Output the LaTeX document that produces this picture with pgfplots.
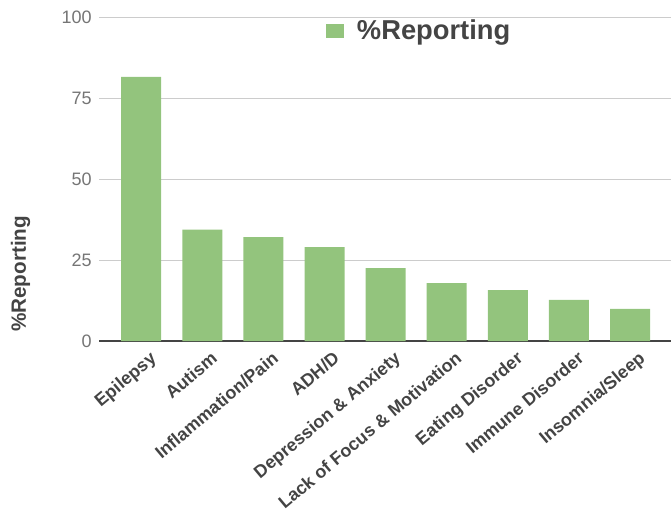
\documentclass[border=0pt]{standalone}
\usepackage{fontspec}
\setmainfont{Liberation Sans}
\usepackage{pgfplots}
\pgfplotsset{compat=1.18}
\definecolor{barg}{HTML}{93C47D}
\definecolor{tickg}{HTML}{757575}
\definecolor{labg}{HTML}{444444}
\begin{document}
\begin{tikzpicture}
\begin{axis}[
  name=ax, scale only axis, width=429pt, height=243pt,
  ymin=0, ymax=100, ytick={0,25,50,75,100},
  xmin=-0.69, xmax=8.67,
  xtick={0,...,8},
  xticklabels={Epilepsy,Autism,Inflammation/Pain,ADH/D,Depression \& Anxiety,Lack of Focus \& Motivation,Eating Disorder,Immune Disorder,Insomnia/Sleep},
  axis x line*=bottom, axis y line*=left,
  x axis line style={draw=labg, line width=1.1pt, -},
  y axis line style={draw=none},
  major tick length=0pt,
  ymajorgrids, grid style={draw=black!20, line width=0.7pt},
  /pgf/number format/assume math mode=true,
  yticklabel style={color=tickg, font=\fontsize{13.5}{14}\selectfont, xshift=-2pt},
  xticklabel style={color=labg, font=\bfseries\fontsize{13.4}{14}\selectfont, rotate=40, anchor=north east, inner sep=1pt, xshift=1pt, yshift=-8pt},
  ylabel={\%Reporting},
  ylabel style={at={(rel axis cs:-0.112,0.207)}, anchor=south, color=labg, font=\bfseries\fontsize{15.5}{16}\selectfont},
  legend style={at={(rel axis cs:0.560,0.957)}, anchor=center, draw=none, fill=none, text=labg, font=\bfseries\fontsize{20.5}{22}\selectfont},
  legend image code/.code={\fill[barg] (0pt,-5.5pt) rectangle (13.5pt,5.5pt); \path (21.5pt,0pt);},
]
\addplot[ybar, bar width=30pt, fill=barg, draw=none] coordinates {
  (0,81.5) (1,34.4) (2,32.1) (3,29.0) (4,22.5) (5,17.9) (6,15.7) (7,12.7) (8,9.9)
};
\addlegendentry{\%Reporting}
\end{axis}
\pgfresetboundingbox
\path[use as bounding box] ([shift={(-74.25pt,-130.5pt)}]ax.south west) rectangle ([shift={(0.75pt,12.75pt)}]ax.north east);
\end{tikzpicture}
\end{document}
